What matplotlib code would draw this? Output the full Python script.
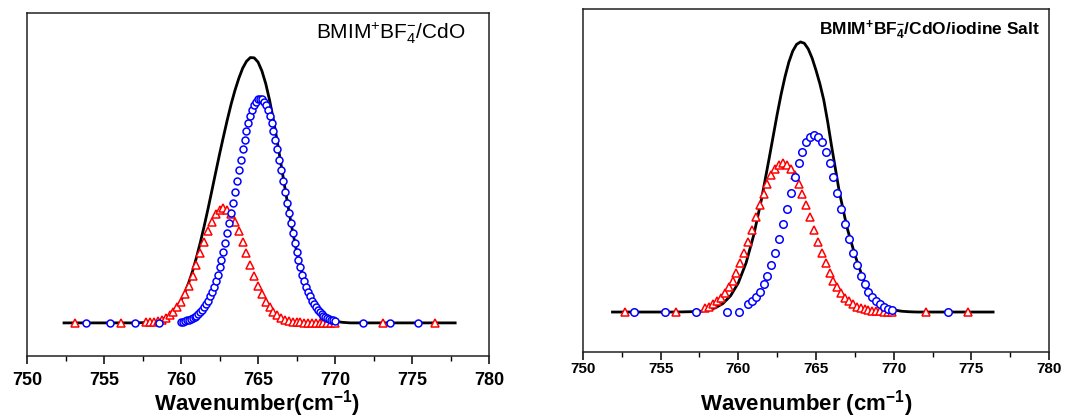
import matplotlib
matplotlib.use("Agg")
import matplotlib.pyplot as plt
from matplotlib.ticker import MultipleLocator

# ---- left panel: BMIM+BF4-/CdO ----
fit1_x = [752.4, 757.0, 757.5,
          758.0, 758.25, 758.5, 758.75, 759.0, 759.25, 759.5, 759.75,
          760.0, 760.25, 760.5, 760.75, 761.0, 761.25, 761.5, 761.75,
          762.0, 762.25, 762.5, 762.75, 763.0, 763.25, 763.5, 763.75,
          764.0, 764.25, 764.5, 764.75, 765.0, 765.25, 765.5, 765.75,
          766.0, 766.25, 766.5, 766.75, 767.0, 767.25, 767.5, 767.75,
          768.0, 768.25, 768.5, 768.75, 769.0, 769.25, 769.5, 769.75,
          770.0, 770.25, 770.5, 770.75, 771.0, 777.8]
fit1_y = [0.0, 0.0, 0.001,
          0.003, 0.005, 0.008, 0.012, 0.019, 0.029, 0.042, 0.060,
          0.084, 0.114, 0.151, 0.194, 0.245, 0.301, 0.362, 0.427,
          0.495, 0.564, 0.632, 0.697, 0.760, 0.819, 0.871, 0.916,
          0.954, 0.980, 0.994, 0.993, 0.977, 0.944, 0.896, 0.834,
          0.760, 0.678, 0.591, 0.504, 0.420, 0.341, 0.270, 0.210,
          0.158, 0.117, 0.083, 0.058, 0.040, 0.027, 0.017, 0.011,
          0.007, 0.004, 0.002, 0.001, 0.0, 0.0]

red1_x = [753.1, 756.1,
          757.75, 758.0, 758.25, 758.5, 758.75, 759.0, 759.25, 759.5, 759.75, 760.0,
          760.25, 760.5, 760.75, 761.0, 761.25, 761.5, 761.75, 762.0, 762.25, 762.5,
          762.75, 763.0, 763.25, 763.5, 763.75, 764.0, 764.25, 764.5, 764.75, 765.0,
          765.25, 765.5, 765.75, 766.0, 766.25, 766.5, 766.75, 767.0, 767.25, 767.5,
          767.75, 768.0, 768.25, 768.5, 768.75, 769.0, 769.25, 769.5, 769.75, 770.0,
          773.1, 776.5]
red1_y = [0.0, 0.0,
          0.002, 0.003, 0.005, 0.008, 0.012, 0.019, 0.028, 0.041, 0.058, 0.080,
          0.107, 0.140, 0.177, 0.218, 0.261, 0.304, 0.344, 0.379, 0.407, 0.424,
          0.430, 0.424, 0.407, 0.379, 0.344, 0.304, 0.261, 0.218, 0.177, 0.140,
          0.107, 0.080, 0.058, 0.041, 0.028, 0.019, 0.012, 0.008, 0.005, 0.003,
          0.002, 0.001, 0.001, 0.0, 0.0, 0.0, 0.0, 0.0, 0.0, 0.0,
          0.0, 0.0]

blue1_x = [753.8, 755.4, 757.0, 758.6,
           760.0, 760.125, 760.25, 760.375, 760.5, 760.625, 760.75, 760.875,
           761.0, 761.125, 761.25, 761.375, 761.5, 761.625, 761.75, 761.875,
           762.0, 762.125, 762.25, 762.375, 762.5, 762.625, 762.75, 762.875,
           763.0, 763.125, 763.25, 763.375, 763.5, 763.625, 763.75, 763.875,
           764.0, 764.125, 764.25, 764.375, 764.5, 764.625, 764.75, 764.875,
           765.0, 765.125, 765.25, 765.375, 765.5, 765.625, 765.75, 765.875,
           766.0, 766.125, 766.25, 766.375, 766.5, 766.625, 766.75, 766.875,
           767.0, 767.125, 767.25, 767.375, 767.5, 767.625, 767.75, 767.875,
           768.0, 768.125, 768.25, 768.375, 768.5, 768.625, 768.75, 768.875,
           769.0, 769.125, 769.25, 769.375, 769.5, 769.625, 769.75, 769.875,
           770.0,
           771.8, 773.6, 775.4]
blue1_y = [0.0, 0.0, 0.0, 0.0,
           0.004, 0.005, 0.007, 0.009, 0.011, 0.014, 0.017, 0.021,
           0.027, 0.033, 0.040, 0.048, 0.058, 0.070, 0.083, 0.099,
           0.116, 0.135, 0.157, 0.181, 0.208, 0.236, 0.267, 0.301,
           0.336, 0.373, 0.412, 0.451, 0.492, 0.532, 0.572, 0.612,
           0.650, 0.686, 0.719, 0.749, 0.776, 0.798, 0.816, 0.829,
           0.837, 0.840, 0.837, 0.829, 0.816, 0.798, 0.776, 0.749,
           0.719, 0.686, 0.650, 0.612, 0.572, 0.532, 0.492, 0.451,
           0.412, 0.373, 0.336, 0.301, 0.267, 0.236, 0.208, 0.181,
           0.157, 0.135, 0.116, 0.099, 0.083, 0.070, 0.058, 0.048,
           0.040, 0.033, 0.027, 0.021, 0.017, 0.014, 0.011, 0.009,
           0.007,
           0.0, 0.0, 0.0]

# ---- right panel: BMIM+BF4-/CdO/iodine Salt ----
fit2_x = [751.9, 756.0, 757.5, 758.0, 758.5, 759.0, 759.5, 760.0, 760.5,
          761.0, 761.5, 762.0, 762.5, 762.75, 763.0, 763.25, 763.5, 763.75,
          764.0, 764.25, 764.5, 764.75, 765.0, 765.25, 765.5, 765.75,
          766.0, 766.25, 766.5, 767.0, 767.5, 768.0, 768.5, 769.0, 769.5,
          770.0, 770.5, 771.0, 771.5, 776.4]
fit2_y = [0.0, 0.0, 0.002, 0.007, 0.015, 0.031, 0.060, 0.108, 0.182,
          0.287, 0.420, 0.574, 0.732, 0.805, 0.870, 0.925, 0.966, 0.991,
          1.000, 0.995, 0.974, 0.940, 0.895, 0.845, 0.785, 0.705,
          0.615, 0.530, 0.445, 0.312, 0.212, 0.128, 0.068, 0.036, 0.018,
          0.008, 0.003, 0.001, 0.0, 0.0]

red2_x = [752.7, 756.0,
          757.875, 758.125, 758.375, 758.625, 758.875, 759.125, 759.375, 759.625, 759.875, 760.125,
          760.375, 760.625, 760.875, 761.125, 761.375, 761.625, 761.875, 762.125, 762.375, 762.625,
          762.875, 763.125, 763.375, 763.625, 763.875, 764.125, 764.375, 764.625, 764.875, 765.125,
          765.375, 765.625, 765.875, 766.125, 766.375, 766.625, 766.875, 767.125, 767.375, 767.625,
          767.875, 768.125, 768.375, 768.625, 768.875, 769.125, 769.375, 769.625, 769.875,
          772.1, 774.8]
red2_y = [0.0, 0.0,
          0.014, 0.020, 0.028, 0.039, 0.052, 0.070, 0.091, 0.116, 0.146, 0.181,
          0.219, 0.261, 0.305, 0.351, 0.395, 0.437, 0.475, 0.506, 0.530, 0.545,
          0.550, 0.545, 0.530, 0.506, 0.475, 0.437, 0.395, 0.351, 0.305, 0.261,
          0.219, 0.181, 0.146, 0.116, 0.091, 0.070, 0.052, 0.039, 0.028, 0.020,
          0.014, 0.010, 0.006, 0.004, 0.003, 0.002, 0.001, 0.001, 0.0,
          0.0, 0.0]

blue2_x = [753.3, 755.3, 757.3, 759.3, 760.05,
           760.625, 760.875, 761.125, 761.375, 761.625, 761.875, 762.125, 762.375, 762.625, 762.875,
           763.125, 763.375, 763.625, 763.875, 764.125, 764.375, 764.625, 764.875, 765.125, 765.375,
           765.625, 765.875, 766.125, 766.375, 766.625, 766.875, 767.125, 767.375, 767.625, 767.875,
           768.125, 768.375, 768.625, 768.875, 769.125, 769.375, 769.625, 769.875,
           773.5]
blue2_y = [0.0, 0.0, 0.0, 0.0, 0.0,
           0.028, 0.040, 0.056, 0.076, 0.103, 0.135, 0.174, 0.219, 0.270, 0.325,
           0.383, 0.442, 0.499, 0.550, 0.594, 0.628, 0.649, 0.656, 0.649, 0.628,
           0.594, 0.550, 0.499, 0.442, 0.383, 0.325, 0.270, 0.219, 0.174, 0.135,
           0.103, 0.076, 0.056, 0.040, 0.028, 0.019, 0.013, 0.008,
           0.0]

xticks = [750, 755, 760, 765, 770, 775, 780]

plt.rcParams['font.family'] = ['Liberation Sans', 'DejaVu Sans']
plt.rcParams['mathtext.fontset'] = 'custom'
plt.rcParams['mathtext.rm'] = 'Liberation Sans'
plt.rcParams['mathtext.it'] = 'Liberation Sans:italic'
plt.rcParams['mathtext.bf'] = 'Liberation Sans:bold'


def draw_panel(ax, fit_x, fit_y, red_x, red_y, blue_x, blue_y, ms_tri, ms_circ, ylim, ticksize, tickpad):
    ax.plot(fit_x, fit_y, "-", color="black", lw=2.0, zorder=1)
    ax.plot(red_x, red_y, "^", ms=ms_tri, mfc="white", mec="#ff0000", mew=1.1, ls="none", zorder=2)
    ax.plot(blue_x, blue_y, "o", ms=ms_circ, mfc="white", mec="#0000ff", mew=1.1, ls="none", zorder=3)

    ax.set_xlim(750, 780)
    ax.set_ylim(ylim)
    ax.set_xticks(xticks)
    ax.xaxis.set_minor_locator(MultipleLocator(2.5))
    ax.set_yticks([])
    ax.tick_params(axis="x", which="major", direction="out", length=6, width=1.1,
                   labelsize=ticksize, pad=tickpad, top=False)
    ax.tick_params(axis="x", which="minor", direction="out", length=3.5, width=1.0, top=False)
    for lab in ax.get_xticklabels():
        lab.set_fontweight("bold")
    for sp in ax.spines.values():
        sp.set_linewidth(1.1)
        sp.set_color("#222222")


def main():
    fig = plt.figure(figsize=(10.65, 4.2), dpi=100)
    ax1 = fig.add_axes([0.0254, 0.1524, 0.4338, 0.8167])
    ax2 = fig.add_axes([0.5474, 0.1619, 0.4376, 0.8167])

    draw_panel(ax1, fit1_x, fit1_y, red1_x, red1_y, blue1_x, blue1_y,
               6.0, 5.0, (-0.124, 1.161), 13, 5.5)
    draw_panel(ax2, fit2_x, fit2_y, red2_x, red2_y, blue2_x, blue2_y,
               6.4, 5.4, (-0.148, 1.122), 11, 1.5)

    ax1.text(0.948, 0.942, r"BMIM$^{+}$BF$_{4}^{-}$/CdO", transform=ax1.transAxes,
             ha="right", va="center", fontsize=15)
    ax2.text(0.981, 0.939, r"$\mathbf{BMIM^{+}BF_{4}^{-}}$/CdO/iodine Salt", transform=ax2.transAxes,
             ha="right", va="center", fontsize=12.5, fontweight="bold")

    fig.text(0.2418, 0.04, r"Wavenumber(cm$^{\mathbf{-1}}$)", ha="center", va="center",
             fontsize=16, fontweight="bold")
    fig.text(0.757, 0.04, r"Wavenumber (cm$^{\mathbf{-1}}$)", ha="center", va="center",
             fontsize=16, fontweight="bold")

    fig.savefig("out.png", dpi=100)


if __name__ == '__main__':
    main()
